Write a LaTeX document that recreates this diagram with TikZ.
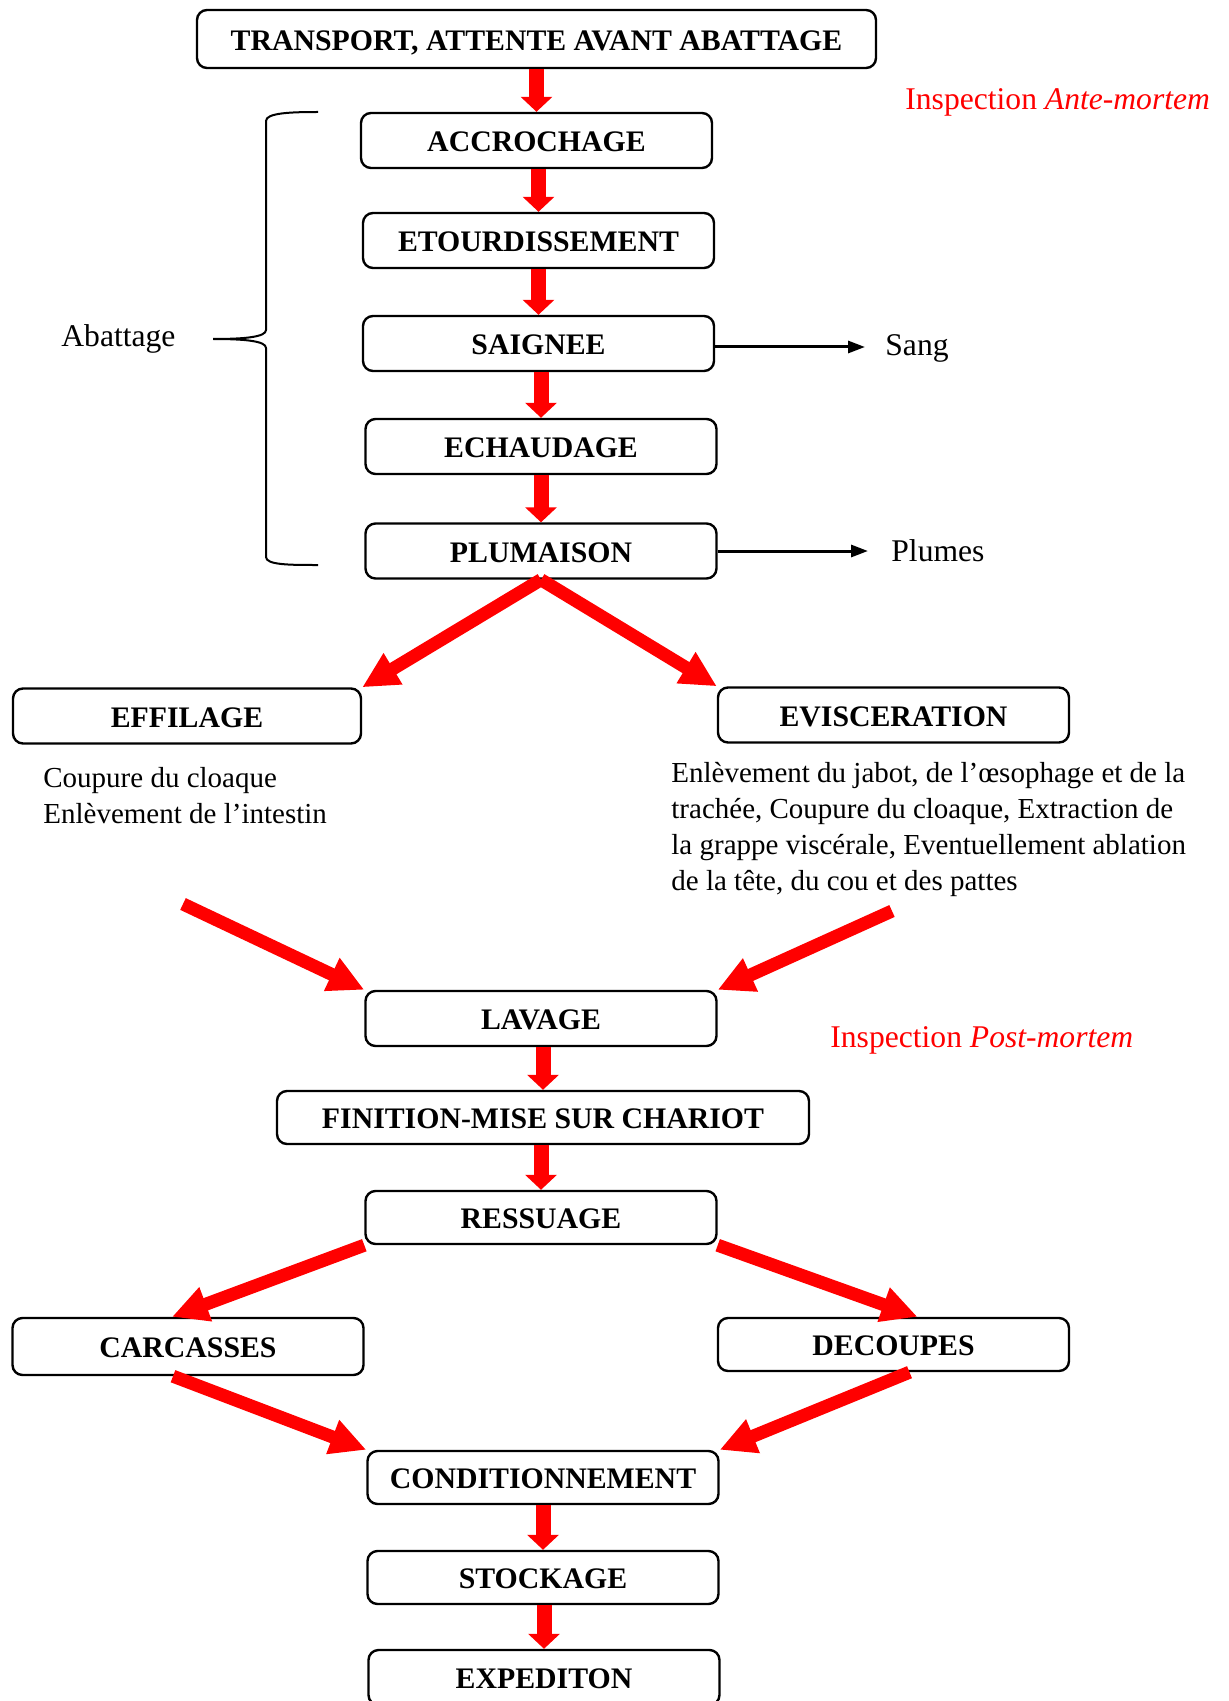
\documentclass[tikz,border=0pt]{standalone}
\usepackage{fontspec}
\setmainfont{Liberation Serif}
\usetikzlibrary{arrows.meta,calc}
\begin{document}
\begin{tikzpicture}[x=0.5pt,y=-0.5pt,
 box/.style={draw, rounded corners=5pt, line width=1.2pt, inner sep=0pt,
   font=\bfseries\fontsize{14.9}{17}\selectfont, text height=11.4pt, text depth=0pt,
   minimum height=27.5pt, minimum width=175.5pt},
 redv/.style={draw=red, line width=7.5pt, -{Triangle[length=7.5pt,width=15.5pt]}},
 redd/.style={draw=red, line width=6.5pt, -{Triangle[length=18pt,width=17pt]}},
 blk/.style={line width=1.5pt, -{Triangle[length=8.5pt,width=6pt]}},
 side/.style={font=\fontsize{15.8}{19}\selectfont, inner sep=0pt, anchor=base west},
 insp/.style={side, text=red},
 desc/.style={font=\fontsize{14.5}{18}\selectfont, inner sep=0pt, anchor=north west, align=left}
]
\useasboundingbox (0,0) rectangle (1229,1701);

% boxes
\node[box, minimum width=339.5pt, minimum height=29pt] (T) at (536.5,39) {TRANSPORT, ATTENTE AVANT ABATTAGE};
\node[box] (ACC) at (536.5,140.5) {ACCROCHAGE};
\node[box] (ETO) at (538.5,240.5) {ETOURDISSEMENT};
\node[box] (SAI) at (538.5,343.5) {SAIGNEE};
\node[box] (ECH) at (541,446.5) {ECHAUDAGE};
\node[box] (PLU) at (541,551) {PLUMAISON};
\node[box, minimum width=174pt] (EFF) at (187,716) {EFFILAGE};
\node[box] (EVI) at (893.5,715) {EVISCERATION};
\node[box] (LAV) at (541,1018.5) {LAVAGE};
\node[box, minimum width=266pt, minimum height=26.5pt] (FIN) at (543,1117.5) {FINITION-MISE SUR CHARIOT};
\node[box, minimum height=26.5pt] (RES) at (541,1217.5) {RESSUAGE};
\node[box, minimum height=28.5pt] (CAR) at (188,1346.5) {CARCASSES};
\node[box, minimum height=26.5pt] (DEC) at (893.5,1344.5) {DECOUPES};
\node[box, minimum height=26.5pt] (CON) at (543,1477.5) {CONDITIONNEMENT};
\node[box, minimum height=26.5pt] (STO) at (543,1577.5) {STOCKAGE};
\node[box] (EXP) at (544,1677.5) {EXPEDITON};

% vertical red arrows
\foreach \a/\b in {T/ACC, ACC/ETO, ETO/SAI, SAI/ECH, ECH/PLU, LAV/FIN, FIN/RES, CON/STO, STO/EXP}
  \draw[redv] (\a.south -| \b.north) -- (\b.north);

% diagonal red arrows
\coordinate (effo) at (183,904);
\coordinate (evio) at (892,911);
\draw[redd] (PLU.south) -- (EFF.north east);
\draw[redd] (PLU.south) -- (EVI.north west);
\draw[redd] (effo) -- (LAV.north west);
\draw[redd] (evio) -- (LAV.north east);
\draw[redd] (RES.south west) -- ([xshift=-8pt]CAR.north);
\draw[redd] (RES.south east) -- ([xshift=12pt]DEC.north);
\draw[redd] ([xshift=-7.5pt]CAR.south) -- (CON.north west);
\draw[redd] ([xshift=8pt]DEC.south) -- (CON.north east);

% side labels
\node[side] (abat) at (61,347) {Abattage};
\node[side] (sang) at (885,356) {Sang};
\node[side] (plum) at (891,561) {Plumes};
\draw[blk, shorten >=10pt] ([yshift=-1.75pt]SAI.east) -- ([yshift=-1.75pt]SAI.east -| sang.west);
\draw[blk, shorten >=11.5pt] (PLU.east) -- (PLU.east -| plum.west);

% brace
\draw[line width=1pt] (318,112) .. controls (290,112) and (266,113) .. (266,121) -- (266,330)
  .. controls (266,337) and (245,339) .. (213,339)
  .. controls (245,339) and (266,341) .. (266,348) -- (266,557)
  .. controls (266,565) and (290,565) .. (318,565);

% inspections
\node[insp] (ia) at (905,110) {Inspection \textit{Ante-mortem}};
\node[insp] (ip) at (830,1047) {Inspection \textit{Post-mortem}};

% descriptions
\node[desc] (effd) at (43,767) {Coupure du cloaque\\Enlèvement de l’intestin};
\node[desc] (evid) at (671,762) {Enlèvement du jabot, de l’œsophage et de la\\trachée, Coupure du cloaque, Extraction de\\la grappe viscérale, Eventuellement ablation\\de la tête, du cou et des pattes};
\end{tikzpicture}
\end{document}
